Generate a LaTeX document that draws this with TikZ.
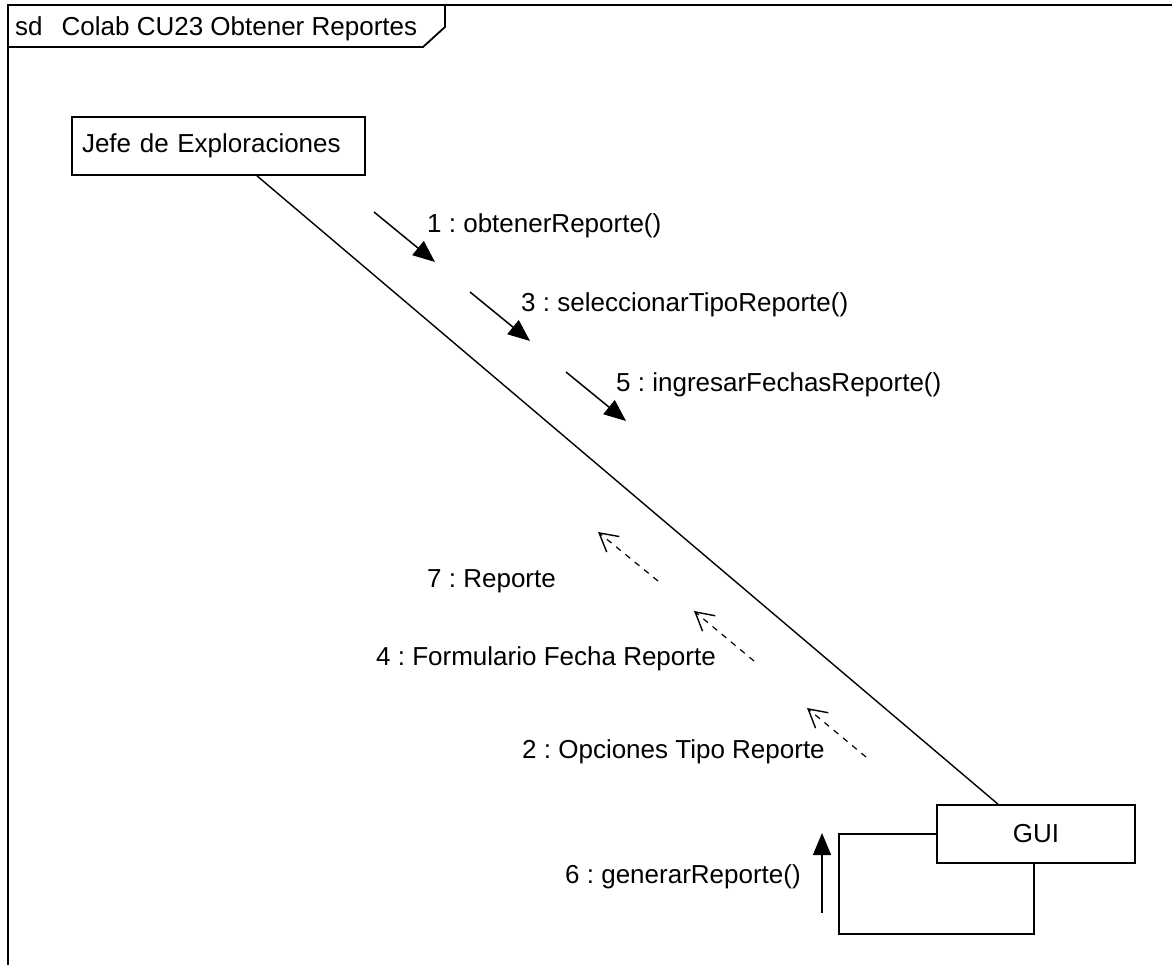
\documentclass[tikz,border=0pt]{standalone}
\usepackage{fontspec}
\setmainfont{Liberation Sans}
\usetikzlibrary{arrows.meta}
\frenchspacing
\begin{document}
\begin{tikzpicture}[x=1pt,y=-1pt,
  txt/.style={font=\fontsize{26}{30}\selectfont},
  lbl/.style={txt, anchor=base west, inner sep=0pt},
  obj/.style={txt, draw, line width=1.7pt, minimum height=58pt, inner sep=0pt},
  frm/.style={line width=1.8pt},
  link/.style={line width=1.4pt},
  msg/.style={line width=1.5pt, -{Triangle[length=22pt,width=18pt]}},
  ret/.style={line width=1.2pt, dash pattern=on 6pt off 6pt, -{Straight Barb[length=18pt,width=20pt,line width=1.4pt]}},
  selfbox/.style={line width=1.7pt}]
\useasboundingbox (0,0) rectangle (1172,964);
% frame
\draw[frm] (8,970) -- (8,5) -- (1180,5);
\draw[frm] (8,47) -- (423,47) -- (445,27) -- (445,5);
\node[lbl] (title) at (15,35) {sd\hspace{19pt}Colab CU23 Obtener Reportes};
% objects
\node[obj, minimum width=293pt, text width=273pt, align=left, inner xsep=10pt] (jefe) at (218.5,146) {Jefe de Exploraciones};
\node[obj, minimum width=198pt] (gui) at (1036,834) {GUI};
% self link box
\draw[selfbox] (gui.west) -- ++(-97,0) -- ++(0,100) -- ++(195,0) -- ([xshift=98pt]gui.south west);
% link
\draw[link] ([xshift=38.5pt]jefe.south) -- ([xshift=-38pt]gui.north);
% messages
\coordinate (m1a) at (374,212); \coordinate (m1b) at (435,262);
\coordinate (m3a) at (470,292); \coordinate (m3b) at (530,341);
\coordinate (m5a) at (566,372); \coordinate (m5b) at (626,421);
\coordinate (m6a) at (822,913); \coordinate (m6b) at (822,833);
\draw[msg] (m1a) -- (m1b);
\draw[msg] (m3a) -- (m3b);
\draw[msg] (m5a) -- (m5b);
\draw[msg] (m6a) -- (m6b);
\node[lbl] (l1) at (427,232) {1 : obtenerReporte()};
\node[lbl] (l3) at (521,311) {3 : seleccionarTipoReporte()};
\node[lbl] (l5) at (616,391) {5 : ingresarFechasReporte()};
\node[lbl] (l6) at (565,883) {6 : generarReporte()};
% returns
\coordinate (r7a) at (658,581); \coordinate (r7b) at (598,532);
\coordinate (r4a) at (754,661); \coordinate (r4b) at (694,611);
\coordinate (r2a) at (866,757); \coordinate (r2b) at (807,708);
\draw[ret] (r7a) -- (r7b);
\draw[ret] (r4a) -- (r4b);
\draw[ret] (r2a) -- (r2b);
\node[lbl] (l7) at (427,587) {7 : Reporte};
\node[lbl] (l4) at (376,665) {4 : Formulario Fecha Reporte};
\node[lbl] (l2) at (522,758) {2 : Opciones Tipo Reporte};
\end{tikzpicture}
\end{document}
